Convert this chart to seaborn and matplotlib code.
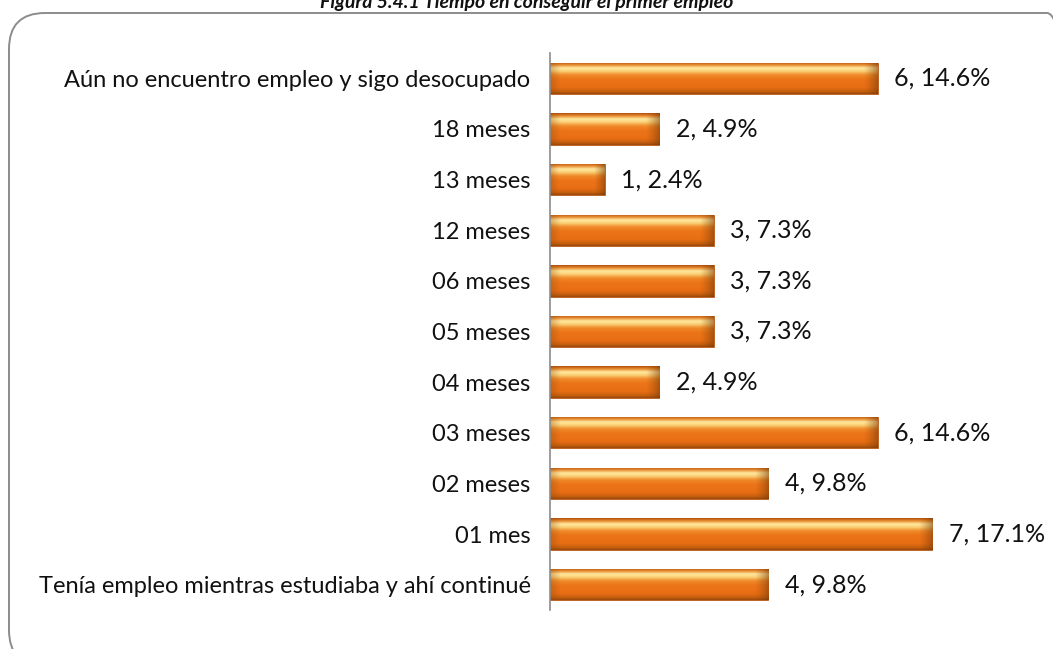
import numpy as np
import pandas as pd
import matplotlib
matplotlib.use("Agg")
import matplotlib.pyplot as plt
import seaborn as sns
from matplotlib.colors import LinearSegmentedColormap
from matplotlib.patches import FancyBboxPatch

categories = [
    "Aún no encuentro empleo y sigo desocupado",
    "18 meses",
    "13 meses",
    "12 meses",
    "06 meses",
    "05 meses",
    "04 meses",
    "03 meses",
    "02 meses",
    "01 mes",
    "Tenía empleo mientras estudiaba y ahí continué",
]
counts = [6, 2, 1, 3, 3, 3, 2, 6, 4, 7, 4]
percents = [14.6, 4.9, 2.4, 7.3, 7.3, 7.3, 4.9, 14.6, 9.8, 17.1, 9.8]
title = "Figura 5.4.1 Tiempo en conseguir el primer empleo"

df = pd.DataFrame({"categoria": categories, "n": counts, "pct": percents})

sns.set_style("white")
plt.rcParams["font.family"] = ["Lato", "DejaVu Sans"]

W, H = 1053, 649
fig = plt.figure(figsize=(W / 100, H / 100), dpi=100)

# rounded frame
frame = FancyBboxPatch((9, -17), 1083 - 9, (H - 13) + 17,
                       boxstyle="round,pad=0,rounding_size=36",
                       transform=None, facecolor="none",
                       edgecolor="#8c8c8c", linewidth=1.4)
fig.patches.append(frame)

left_px, right_px, top_px, bot_px = 550, 1000, 53, 610
ax = fig.add_axes([left_px / W, (H - bot_px) / H,
                   (right_px - left_px) / W, (bot_px - top_px) / H])

sns.barplot(data=df, y="categoria", x="n", order=categories, orient="h",
            color="#EC7A1C", width=0.62, ax=ax, saturation=1,
            edgecolor="#B5581A", linewidth=0.6)

xmax = (right_px - left_px) / 54.6
ax.set_xlim(0, xmax)
ax.set_ylim(len(categories) - 0.5, -0.5)

cmap = LinearSegmentedColormap.from_list("bevel", [
    (0.00, "#B35210"),
    (0.08, "#E8892E"),
    (0.18, "#FFE9A0"),
    (0.28, "#FBD077"),
    (0.40, "#F08A2A"),
    (0.55, "#EC7418"),
    (0.80, "#E86E14"),
    (0.92, "#C9600F"),
    (1.00, "#9C4A0C"),
])
end_cmap = LinearSegmentedColormap.from_list(
    "end", [(0, (0.6, 0.3, 0.05, 0.0)), (1, (0.45, 0.22, 0.03, 0.55))])
start_cmap = LinearSegmentedColormap.from_list(
    "start", [(0, (0.55, 0.28, 0.05, 0.35)), (1, (0.6, 0.3, 0.05, 0.0))])
grad = np.linspace(0, 1, 64).reshape(-1, 1)
hgrad = np.linspace(0, 1, 32).reshape(1, -1)
for p in ax.patches:
    x0, y0, w, h = p.get_x(), p.get_y(), p.get_width(), p.get_height()
    z = p.get_zorder()
    im = ax.imshow(grad, cmap=cmap, aspect="auto", origin="upper",
                   extent=(x0, x0 + w, y0 + h, y0), zorder=z + 0.1,
                   interpolation="bilinear")
    im.set_clip_path(p)
    endw = min(0.25, w * 0.2)
    im2 = ax.imshow(hgrad, cmap=end_cmap, aspect="auto",
                    extent=(x0 + w - endw, x0 + w, y0 + h, y0),
                    zorder=z + 0.2, interpolation="bilinear")
    im2.set_clip_path(p)
    im3 = ax.imshow(hgrad, cmap=start_cmap, aspect="auto",
                    extent=(x0, x0 + endw * 0.8, y0 + h, y0),
                    zorder=z + 0.2, interpolation="bilinear")
    im3.set_clip_path(p)

ax.set_xlim(0, xmax)
ax.set_ylim(len(categories) - 0.5, -0.5)

for i, (n, pc) in enumerate(zip(counts, percents)):
    ax.text(n + 0.3, i, f"{n}, {pc}%", va="center", ha="left",
            fontsize=18, color="#111111")

ax.set_xlabel("")
ax.set_ylabel("")
ax.set_xticks([])
ax.tick_params(axis="y", which="major", length=0, pad=14, labelsize=17,
               labelcolor="#111111")
ax.set_yticks(np.arange(-0.5, len(categories), 1), minor=True)
ax.tick_params(axis="y", which="minor", length=6, width=1.2, color="#8c8c8c")
for s in ["top", "right", "bottom"]:
    ax.spines[s].set_visible(False)
ax.spines["left"].set_color("#8c8c8c")
ax.spines["left"].set_linewidth(1.2)

fig.text(527 / W, 1 - 8 / H, title, ha="center", va="baseline",
         fontsize=14, fontweight="bold", fontstyle="italic", color="#111111")

fig.savefig("out.png", dpi=100)
